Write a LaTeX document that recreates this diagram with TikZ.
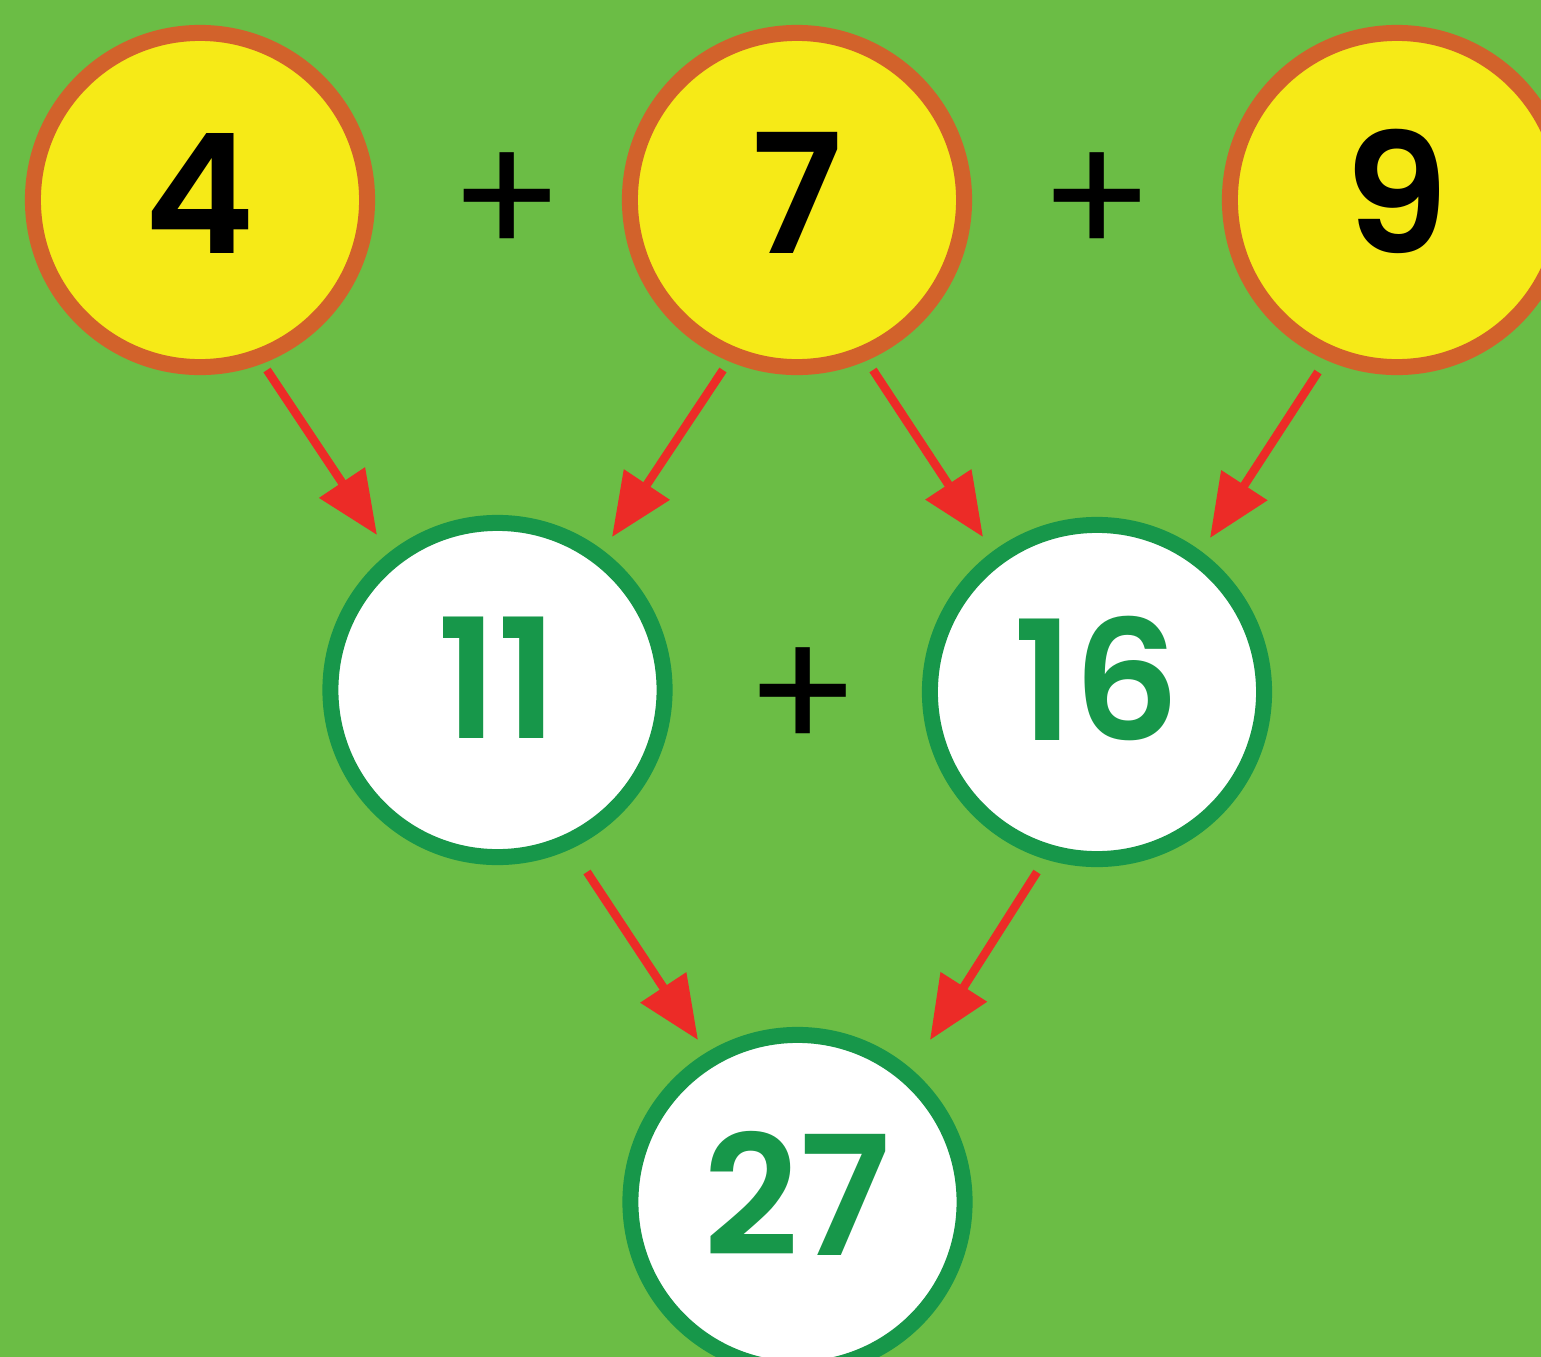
\documentclass[tikz,border=0pt]{standalone}
\usepackage{fontspec}
\setmainfont{Poppins}
\newfontfamily\numfont{Poppins SemiBold}
\usetikzlibrary{arrows.meta,calc}
\definecolor{bg}{HTML}{6BBD45}
\definecolor{yel}{HTML}{F6EA17}
\definecolor{org}{HTML}{D2622B}
\definecolor{dgreen}{HTML}{17974A}
\definecolor{arred}{HTML}{EC2B27}
\begin{document}
\begin{tikzpicture}[x=0.01cm,y=-0.01cm,
  num/.style={circle, inner sep=0pt, minimum size=3.34cm, line width=0.16cm,
    font=\fontsize{47.4}{50}\selectfont\numfont, text height=1.2cm, text depth=0.14cm},
  topnum/.style={num, draw=org, fill=yel, text=black},
  sumnum/.style={num, draw=dgreen, fill=white, text=dgreen},
  plus/.style={inner sep=0pt, font=\fontsize{48}{50}\selectfont, text=black},
  arr/.style={draw=arred, line width=0.085cm, -{Triangle[length=0.63cm,width=0.53cm]}}]
\useasboundingbox (0,0) rectangle (1541,1357);
\fill[bg] (0,0) rectangle (1541,1357);
\clip (0,0) rectangle (1541,1357);
% top row
\node[topnum] (n4) at (200,200) {4};
\node[topnum] (n7) at (797,200) {7};
\node[topnum] (n9) at (1397,200) {9};
\node[plus] (p1) at (507,205) {+};
\node[plus] (p2) at (1097,205) {+};
% middle row
\node[sumnum, text depth=0.24cm] (n11) at (497.5,690) {11};
\node[sumnum, text depth=0.24cm] (n16) at (1097,692) {16};
\node[plus] (p3) at (803,700) {+};
% bottom
\node[sumnum] (n27) at (797.5,1202) {27};
% arrows
\draw[arr] ($(n4)+(67,170)$) -- ($(n11)+(-120.5,-155)$);
\draw[arr] ($(n7)+(-74,170)$) -- ($(n11)+(114.5,-153)$);
\draw[arr] ($(n7)+(76,170)$) -- ($(n16)+(-114,-155)$);
\draw[arr] ($(n9)+(-79,172)$) -- ($(n16)+(113,-154)$);
\draw[arr] ($(n11)+(89.5,182)$) -- ($(n27)+(-99.5,-162)$);
\draw[arr] ($(n16)+(-60,180)$) -- ($(n27)+(132.5,-162)$);
\end{tikzpicture}
\end{document}
